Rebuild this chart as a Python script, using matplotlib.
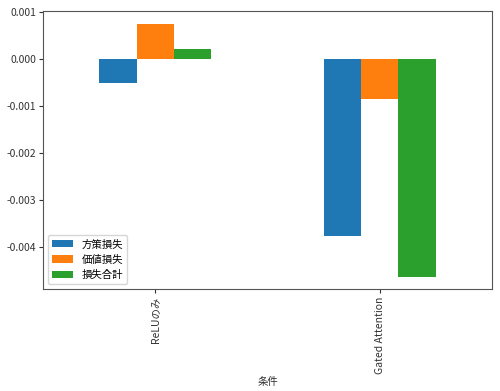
import matplotlib
matplotlib.use("Agg")
import matplotlib.pyplot as plt
import pandas as pd

plt.rcParams['font.family'] = ['Noto Sans CJK JP', 'DejaVu Sans']
plt.rcParams['axes.unicode_minus'] = False

conditions = ["ReLUのみ", "Gated Attention"]
policy_loss = [-0.00051, -0.00377]
value_loss = [0.000755, -0.000858]
total_loss = [0.000223, -0.00464]

df = pd.DataFrame({"方策損失": policy_loss, "価値損失": value_loss, "損失合計": total_loss},
                  index=pd.Index(conditions, name="条件"))

fig, ax = plt.subplots(figsize=(5.0, 3.91), dpi=100)
df.plot(kind="bar", ax=ax)
ax.set_xlabel("条件", fontsize=7.5, color="#333333", labelpad=2)
for s in ax.spines.values():
    s.set_color("#555555")
ax.tick_params(axis="both", labelsize=7.5, colors="#333333", length=3, pad=2)
ax.set_yticks([0.001, 0.0, -0.001, -0.002, -0.003, -0.004])
ax.set_yticklabels(["0.001", "0.000", "-0.001", "-0.002", "-0.003", "-0.004"])
ax.legend(loc="lower left", fontsize=7.5)
fig.subplots_adjust(left=0.086, right=0.984, top=0.972, bottom=0.26)
fig.savefig("out.png", dpi=100)
